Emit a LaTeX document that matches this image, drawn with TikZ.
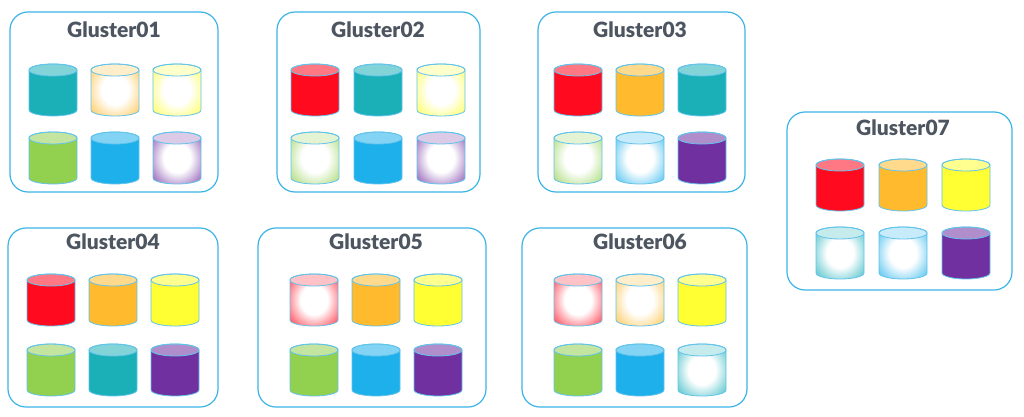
\documentclass[tikz,border=0pt]{standalone}
\usepackage{fontspec}
\setmainfont{Lato}
\definecolor{teal}{HTML}{1BB0B8}
\definecolor{red}{HTML}{FF0A1E}
\definecolor{orange}{HTML}{FFBA2E}
\definecolor{yellow}{HTML}{FFFF33}
\definecolor{green}{HTML}{92D050}
\definecolor{blue}{HTML}{1EB0EA}
\definecolor{purple}{HTML}{7030A0}
\definecolor{frame}{HTML}{3BB4E6}
\definecolor{ttl}{HTML}{4D5560}
\colorlet{gcol}{red}
\pgfdeclareradialshading[gcol]{glow}{\pgfpoint{0bp}{0bp}}{color(0bp)=(white); color(14bp)=(white); color(30bp)=(gcol!60!white); color(40bp)=(gcol); color(50bp)=(gcol)}
\newcommand\cylbody{(-24,20) -- (-24,-20) arc[start angle=180,end angle=360,x radius=24,y radius=6] -- (24,20) arc[start angle=0,end angle=180,x radius=24,y radius=6] -- cycle}
\newcommand\cylS[3]{\begin{scope}[shift={(#1,#2)}]
\fill[#3] \cylbody;
\fill[#3!55!white] (0,20) ellipse[x radius=24,y radius=6];
\draw[frame!80,line width=0.8pt] \cylbody; \draw[frame!80,line width=0.8pt] (0,20) ellipse[x radius=24,y radius=6];
\end{scope}}
\newcommand\cylG[3]{\begin{scope}[shift={(#1,#2)}]
\colorlet{gcol}{#3}
\shade[shading=glow] \cylbody;
\fill[#3!25!white] (0,20) ellipse[x radius=24,y radius=6];
\draw[frame!80,line width=0.8pt] \cylbody; \draw[frame!80,line width=0.8pt] (0,20) ellipse[x radius=24,y radius=6];
\end{scope}}
\tikzset{box/.style={draw=frame,line width=1.2pt,rounded corners=18pt},
ttl/.style={text=ttl,font=\fontspec{Lato Black}\fontsize{21}{24}\selectfont}}
\begin{document}
\begin{tikzpicture}[x=1pt,y=1pt]
\useasboundingbox (0,0) rectangle (1024,416);
% Box01
\draw[box] (10,224) rectangle (218,404);
\node[ttl] (t1) at (114,386) {Gluster01};
\cylS{53}{326}{teal}\cylG{115}{326}{orange}\cylG{177}{326}{yellow}
\cylS{53}{258}{green}\cylS{115}{258}{blue}\cylG{177}{258}{purple}
% Box02
\draw[box] (277,224) rectangle (480,404);
\node[ttl] (t2) at (378,386) {Gluster02};
\cylS{315}{326}{red}\cylS{378}{326}{teal}\cylG{441}{326}{yellow}
\cylG{315}{258}{green}\cylS{378}{258}{blue}\cylG{441}{258}{purple}
% Box03
\draw[box] (538,224) rectangle (745,404);
\node[ttl] (t3) at (640,386) {Gluster03};
\cylS{578}{326}{red}\cylS{640}{326}{orange}\cylS{702}{326}{teal}
\cylG{578}{258}{green}\cylG{640}{258}{blue}\cylS{702}{258}{purple}
% Box07
\draw[box] (787,126) rectangle (1012,304);
\node[ttl] (t7) at (903,288) {Gluster07};
\cylS{840}{231}{red}\cylS{903}{231}{orange}\cylS{966}{231}{yellow}
\cylG{840}{163}{teal}\cylG{903}{163}{blue}\cylS{966}{163}{purple}
% Box04
\draw[box] (8,9) rectangle (218,188);
\node[ttl] (t4) at (113,174) {Gluster04};
\cylS{51}{116}{red}\cylS{113}{116}{orange}\cylS{175}{116}{yellow}
\cylS{51}{46}{green}\cylS{113}{46}{teal}\cylS{175}{46}{purple}
% Box05
\draw[box] (258,9) rectangle (486,188);
\node[ttl] (t5) at (376,174) {Gluster05};
\cylG{314}{116}{red}\cylS{376}{116}{orange}\cylS{438}{116}{yellow}
\cylS{314}{46}{green}\cylS{376}{46}{blue}\cylS{438}{46}{purple}
% Box06
\draw[box] (522,9) rectangle (747,188);
\node[ttl] (t6) at (640,174) {Gluster06};
\cylG{578}{116}{red}\cylG{640}{116}{orange}\cylS{702}{116}{yellow}
\cylS{578}{46}{green}\cylS{640}{46}{blue}\cylG{702}{46}{teal}
\end{tikzpicture}
\end{document}
